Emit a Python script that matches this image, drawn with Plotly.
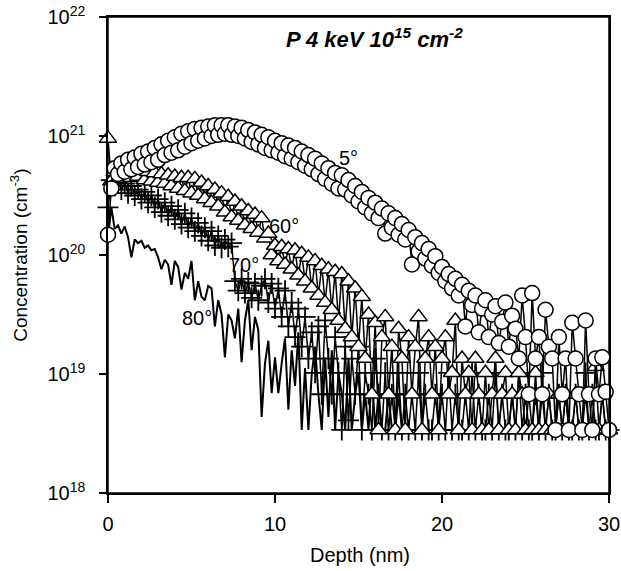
import numpy as np
import plotly.graph_objects as go

# depth grid (nm), 0.2 nm sampling
depth = np.round(np.arange(0, 30.0001, 0.2), 1)
depth_80 = depth[:90]

# log10 concentration (cm^-3)
log_conc_5deg = [
    20.17, 20.56, 20.73, 20.68, 20.77, 20.70, 20.80, 20.72, 20.82, 20.74,
    20.85, 20.76, 20.87, 20.78, 20.90, 20.80, 20.93, 20.84, 20.96, 20.86,
    20.99, 20.88, 21.02, 20.91, 21.04, 20.94, 21.06, 20.96, 21.07, 20.98,
    21.08, 21.00, 21.09, 21.01, 21.09, 21.02, 21.09, 21.01, 21.08, 21.00,
    21.07, 20.98, 21.05, 20.95, 21.03, 20.93, 21.01, 20.90, 20.99, 20.88,
    20.96, 20.86, 20.94, 20.83, 20.92, 20.81, 20.90, 20.78, 20.87, 20.75,
    20.84, 20.72, 20.81, 20.68, 20.77, 20.64, 20.73, 20.60, 20.69, 20.56,
    20.67, 20.55, 20.63, 20.50, 20.58, 20.45, 20.53, 20.40, 20.48, 20.35,
    20.44, 20.31, 20.39, 20.18, 20.35, 20.23, 20.31, 20.17, 20.26, 20.13,
    20.21, 19.92, 20.15, 20.03, 20.10, 19.97, 20.05, 19.91, 19.99, 19.85,
    19.90, 19.78, 19.84, 19.72, 19.80, 19.66, 19.75, 19.40, 19.70, 19.58,
    19.66, 19.35, 19.55, 19.62, 19.31, 19.50, 19.57, 19.26, 19.44, 19.60,
    19.23, 19.49, 19.38, 19.13, 19.66, 19.31, 18.83, 19.68, 19.13, 19.31,
    18.83, 19.54, 19.23, 19.13, 18.53, 19.31, 18.83, 19.13, 18.53, 19.43,
    19.13, 18.83, 18.53, 19.45, 18.83, 18.53, 19.13, 18.83, 19.14, 18.85,
    18.53,
]

log_conc_60deg = [
    20.98, 20.62, 20.70, 20.64, 20.73, 20.66, 20.72, 20.65, 20.73, 20.66,
    20.71, 20.63, 20.70, 20.62, 20.69, 20.61, 20.68, 20.60, 20.67, 20.58,
    20.66, 20.56, 20.65, 20.54, 20.65, 20.52, 20.64, 20.50, 20.61, 20.47,
    20.58, 20.44, 20.55, 20.41, 20.52, 20.36, 20.49, 20.32, 20.45, 20.29,
    20.41, 20.25, 20.37, 20.22, 20.34, 20.19, 20.31, 20.14, 20.18, 20.00,
    20.08, 19.95, 20.07, 19.92, 20.05, 19.88, 20.04, 19.83, 20.01, 19.78,
    19.98, 19.72, 19.95, 19.66, 19.91, 19.60, 19.88, 19.54, 19.86, 19.45,
    19.84, 19.38, 19.78, 19.31, 19.72, 19.23, 19.65, 19.13, 19.50, 18.83,
    19.43, 18.53, 19.31, 19.48, 18.83, 19.23, 18.53, 19.38, 19.13, 18.53,
    19.31, 18.83, 19.23, 19.48, 18.53, 19.13, 19.31, 18.83, 19.23, 18.53,
    19.13, 19.31, 18.83, 19.01, 19.45, 18.53, 19.13, 18.83, 19.01, 18.53,
    19.13, 18.83, 18.53, 19.01, 18.53, 18.83, 19.13, 18.53, 18.83, 19.01,
    18.53, 18.83, 18.53, 19.01, 18.83, 18.53, 18.83, 18.53, 19.01, 18.53,
    18.83, 18.53, 18.83, 18.53, 18.53, 18.83, 18.53, 18.83, 18.53, 18.53,
    18.83, 18.53, 18.53, 18.83, 18.53, 18.53, 19.06, 18.53, 18.83, 18.53,
    18.53,
]

log_conc_70deg = [
    20.40, 20.63, 20.58, 20.62, 20.55, 20.60, 20.52, 20.58, 20.50, 20.55,
    20.47, 20.53, 20.44, 20.50, 20.40, 20.47, 20.36, 20.44, 20.33, 20.41,
    20.30, 20.38, 20.26, 20.35, 20.23, 20.31, 20.20, 20.27, 20.16, 20.23,
    20.12, 20.20, 20.08, 20.16, 20.06, 20.13, 20.07, 20.10, 19.78, 19.70,
    19.80, 19.68, 19.77, 19.64, 19.76, 19.62, 19.74, 19.80, 19.60, 19.76,
    19.55, 19.72, 19.48, 19.70, 19.40, 19.60, 19.31, 19.55, 19.23, 19.48,
    19.13, 19.35, 19.01, 19.40, 18.83, 19.45, 19.13, 18.83, 19.31, 19.01,
    18.53, 19.23, 18.61, 19.13, 18.83, 19.23, 18.53, 19.01, 18.83, 18.53,
    19.13, 18.83, 18.53, 19.01, 18.53, 18.83, 18.53, 19.01, 18.53, 18.83,
    18.53, 18.83, 18.53, 19.01, 18.53, 18.83, 18.53, 18.53, 18.83, 18.53,
    18.83, 18.53, 19.01, 18.53, 18.83, 18.53, 18.53, 18.83, 18.53, 19.01,
    18.53, 18.83, 18.53, 18.53, 18.83, 18.53, 19.01, 18.53, 18.83, 18.53,
    18.53, 18.83, 18.53, 19.01, 18.53, 18.83, 18.53, 18.53, 18.83, 18.53,
    19.01, 18.53, 18.83, 18.53, 18.53, 18.83, 18.53, 18.83, 18.53, 18.53,
    18.83, 18.53, 18.53, 19.01, 18.53, 18.83, 18.53, 18.53, 18.83, 18.53,
    18.53,
]

log_conc_80deg = [
    20.15, 20.40, 20.22, 20.25, 20.18, 20.24, 20.15, 19.98, 20.13, 20.10,
    20.12, 20.06, 20.08, 20.04, 20.05, 19.98, 19.88, 19.96, 19.92, 19.75,
    19.95, 19.90, 19.71, 19.85, 19.80, 19.95, 19.62, 19.78, 19.65, 19.62,
    19.74, 19.72, 19.40, 19.62, 19.50, 19.14, 19.50, 19.45, 19.30, 19.55,
    19.10, 19.45, 19.62, 19.20, 19.48, 19.37, 18.64, 19.09, 19.28, 18.84,
    19.14, 18.84, 19.09, 19.30, 18.70, 19.20, 18.90, 19.35, 18.53, 19.05,
    18.53, 19.00, 19.23, 18.83, 18.53, 19.14, 18.64, 19.20, 18.53, 19.01,
    18.83, 18.53, 19.13, 18.53, 18.83, 19.01, 18.53, 18.83, 18.53, 19.01,
    18.53, 18.83, 18.53, 18.53, 18.83, 18.53, 18.53, 18.83, 18.53, 18.53,
]

angle_labels = ["5°", "60°", "70°", "80°"]
label_x = [14.43, 10.55, 8.17, 5.31]
label_logy = [20.815, 20.244, 19.916, 19.47]

y_tickvals = [1e18, 1e19, 1e20, 1e21, 1e22]
y_ticktext = ["10<sup>18</sup>", "10<sup>19</sup>", "10<sup>20</sup>",
              "10<sup>21</sup>", "10<sup>22</sup>"]
x_tickvals = [0, 10, 20, 30]

FONT = "Liberation Sans, Arial, sans-serif"
fig = go.Figure()

fig.add_trace(go.Scatter(
    x=depth_80, y=10 ** np.array(log_conc_80deg), mode="lines",
    line=dict(color="black", width=2), cliponaxis=False, showlegend=False))
fig.add_trace(go.Scatter(
    x=depth, y=10 ** np.array(log_conc_70deg), mode="lines+markers",
    line=dict(color="black", width=1.5),
    marker=dict(symbol="cross-thin", size=15, color="black",
                line=dict(color="black", width=1.8)),
    cliponaxis=False, showlegend=False))
fig.add_trace(go.Scatter(
    x=depth, y=10 ** np.array(log_conc_60deg), mode="lines+markers",
    line=dict(color="black", width=1.5),
    marker=dict(symbol="triangle-up", size=15, color="white",
                line=dict(color="black", width=1.5)),
    cliponaxis=False, showlegend=False))
fig.add_trace(go.Scatter(
    x=depth, y=10 ** np.array(log_conc_5deg), mode="lines+markers",
    line=dict(color="black", width=1.5),
    marker=dict(symbol="circle", size=15, color="white",
                line=dict(color="black", width=1.5)),
    cliponaxis=False, showlegend=False))

annotations = []
for t, xv, yv in zip(angle_labels, label_x, label_logy):
    annotations.append(dict(x=xv, y=yv, xref="x", yref="y", text=t,
                            xanchor="center", yanchor="middle",
                            showarrow=False, font=dict(family=FONT, size=20, color="black")))
annotations.append(dict(x=0.531, y=0.956, xref="paper", yref="paper",
                        xanchor="center", yanchor="middle",
                        text="<b><i>P 4 keV 10<sup>15</sup> cm<sup>-2</sup></i></b>",
                        showarrow=False, font=dict(family=FONT, size=22, color="black")))
annotations.append(dict(x=-0.178, y=0.5, xref="paper", yref="paper",
                        xanchor="center", yanchor="middle",
                        text="Concentration (cm<sup>-3</sup>)", textangle=-90,
                        showarrow=False, font=dict(family=FONT, size=19, color="black")))
annotations.append(dict(x=0.503, y=-0.13, xref="paper", yref="paper",
                        xanchor="center", yanchor="middle",
                        text="Depth (nm)", showarrow=False,
                        font=dict(family=FONT, size=20, color="black")))

fig.update_layout(
    width=621, height=571,
    margin=dict(l=108, r=12, t=17, b=78, autoexpand=False),
    plot_bgcolor="white", paper_bgcolor="white",
    font=dict(family=FONT, color="black", size=20),
    annotations=annotations,
    shapes=[dict(type="rect", xref="paper", yref="paper", x0=0, y0=0, x1=1, y1=1,
                 line=dict(color="black", width=1.5), fillcolor="rgba(0,0,0,0)",
                 layer="below")],
    xaxis=dict(range=[0, 30], tickvals=x_tickvals, ticks="outside",
               ticklen=8, tickwidth=1.5, tickcolor="black",
               showline=True, linecolor="black", linewidth=1.5, mirror=True,
               showgrid=False, zeroline=False, automargin=False,
               ticklabelstandoff=4,
               tickfont=dict(family=FONT, size=20, color="black")),
    yaxis=dict(type="log", range=[18, 22.0002], tickvals=y_tickvals,
               ticktext=y_ticktext,
               ticks="outside", ticklen=7, tickwidth=1.5,
               tickcolor="black", showline=True, linecolor="black",
               linewidth=1.5, mirror=True, showgrid=False, zeroline=False,
               automargin=False, ticklabelstandoff=10,
               ticklabeloverflow="allow",
               tickfont=dict(family=FONT, size=20, color="black")),
)

fig.write_html("out.html")
